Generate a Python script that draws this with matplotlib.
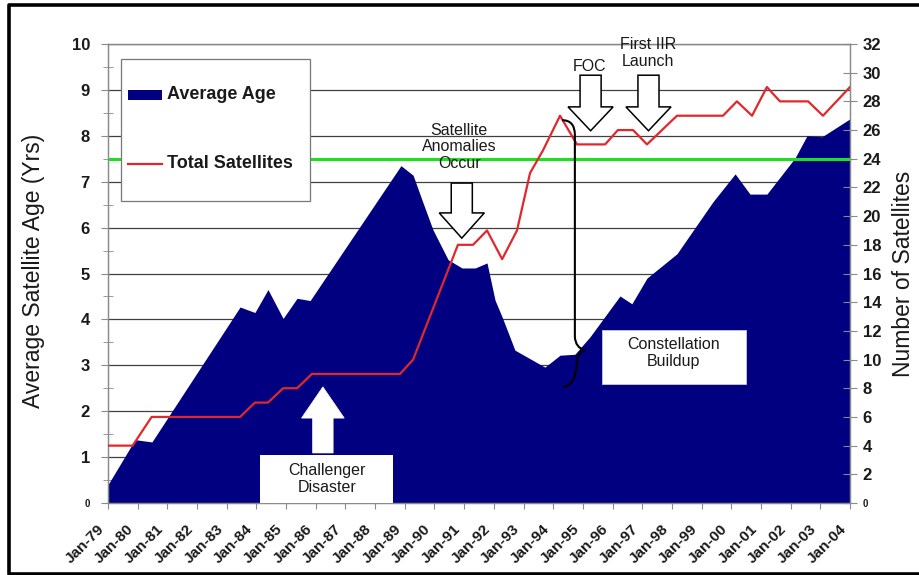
import numpy as np
import matplotlib
matplotlib.use("Agg")
import matplotlib.pyplot as plt
from matplotlib.patches import Rectangle, FancyArrow, PathPatch
from matplotlib.path import Path
from matplotlib.lines import Line2D
from matplotlib.transforms import ScaledTranslation

plt.rcParams['font.family'] = ['Liberation Sans', 'DejaVu Sans']

# Average age of the constellation (years), by date
age_years = [1979.0, 1979.91, 1980.48, 1983.45, 1983.95, 1984.39, 1984.9, 1985.37,
             1985.81, 1988.87, 1989.28, 1989.58, 1989.95, 1990.46, 1990.93, 1991.37,
             1991.77, 1992.04, 1992.28, 1992.71, 1993.72, 1994.23, 1994.73, 1995.24,
             1996.25, 1996.65, 1997.16, 1998.17, 1999.38, 2000.13, 2000.63, 2001.2,
             2002.15, 2002.55, 2003.06, 2004.0]
age_values = [0.4, 1.38, 1.33, 4.27, 4.15, 4.65, 4.02, 4.46,
              4.41, 7.35, 7.14, 6.6, 5.95, 5.3, 5.12, 5.12,
              5.23, 4.42, 4.05, 3.33, 2.96, 3.22, 3.24, 3.62,
              4.51, 4.34, 4.9, 5.43, 6.56, 7.17, 6.73, 6.73,
              7.52, 8.0, 7.98, 8.37]

# Total satellites on orbit, by date
sat_years = [1979.0, 1979.83, 1980.47, 1983.45, 1983.95, 1984.39, 1984.9, 1985.37,
             1985.87, 1988.84, 1989.28, 1990.79, 1991.3, 1991.77, 1992.28, 1992.78,
             1993.22, 1993.66, 1994.23, 1994.8, 1995.75, 1996.18, 1996.69, 1997.16,
             1998.17, 1999.72, 2000.19, 2000.7, 2001.2, 2001.64, 2002.59, 2003.09,
             2004.0]
sat_values = [4, 4, 6, 6, 7, 7, 8, 8,
              9, 9, 10, 18, 18, 19, 17, 19,
              23, 24.6, 27, 25, 25, 26, 26, 25,
              27, 27, 28, 27, 29, 28, 28, 27,
              29]

full_constellation = 24

year_ticks = list(range(1979, 2005))
year_labels = ['Jan-%02d' % (y % 100) for y in year_ticks]
age_ticks = list(range(0, 11))
sat_ticks = list(range(0, 33, 2))

NAVY = '#000080'
RED = '#e0282c'
GREEN = '#1fe01f'
AXIS_GRAY = '#8a8a8a'
TXT = '#1a1a1a'

W, H = 919, 575
fig = plt.figure(figsize=(W / 100, H / 100), dpi=100)
ax = fig.add_axes([108 / W, 1 - 503 / H, 742 / W, 459 / H])
ax2 = ax.twinx()

# area for average age, gridlines underneath
ax.fill_between(age_years, age_values, 0, color=NAVY, lw=0, zorder=2)
ax.set_xlim(1979, 2004)
ax.set_ylim(0, 10)
ax.set_axisbelow(True)
ax.yaxis.grid(True, color='#404040', lw=0.9)

ax.set_xticks(year_ticks, year_labels, rotation=45, ha='right', va='center',
              rotation_mode='anchor', fontweight='bold', fontsize=11)
ax.tick_params(axis='x', direction='out', length=4, color=AXIS_GRAY, pad=13,
               labelcolor=TXT)
shift = ScaledTranslation(-0.06, 0, fig.dpi_scale_trans)
for lab in ax.get_xticklabels():
    lab.set_transform(lab.get_transform() + shift)

ax.set_yticks(age_ticks, [str(v) for v in age_ticks], fontweight='bold', fontsize=12)
ax.set_yticks(np.arange(0.5, 10, 1), minor=True)
ax.tick_params(axis='y', which='major', direction='out', length=5,
               color=AXIS_GRAY, pad=8, labelcolor=TXT)
ax.tick_params(axis='y', which='minor', direction='inout', length=7, color=AXIS_GRAY)
ax.get_yticklabels()[0].set_fontsize(7)

ax.set_ylabel('Average Satellite Age (Yrs)', fontsize=16.5, color=TXT)
ax.yaxis.set_label_coords((45 - 108) / 742, 0.505)

# satellite count on the right-hand scale
ax2.set_ylim(0, 32)
ax2.plot(sat_years, sat_values, color=RED, lw=1.6, zorder=3)
ax2.axhline(full_constellation, color=GREEN, lw=2.2, zorder=2)
ax2.set_yticks(sat_ticks, [str(v) for v in sat_ticks], fontweight='bold', fontsize=12)
ax2.tick_params(axis='y', direction='inout', length=10, color=AXIS_GRAY, pad=4,
                labelcolor=TXT)
ax2.get_yticklabels()[0].set_fontsize(7)
ax2.set_ylabel('Number of Satellites', fontsize=16.5, color=TXT)
ax2.yaxis.set_label_coords((892 - 108) / 742, 0.499)

for a in (ax, ax2):
    for s in a.spines.values():
        s.set_color(AXIS_GRAY)
        s.set_linewidth(0.9)

# hollow event arrows pointing down at the curve
def down_arrow(x, top, tip, head_start):
    ax2.add_patch(FancyArrow(x, top, 0, tip - top, width=0.71, head_width=1.52,
                             head_length=head_start - tip, length_includes_head=True,
                             fc='white', ec='black', lw=1.1, zorder=5,
                             transform=ax.transData))

down_arrow(1990.92, 6.97, 5.77, 6.32)
down_arrow(1995.26, 9.32, 8.11, 8.63)
down_arrow(1997.21, 9.32, 8.11, 8.63)

note = dict(ha='center', va='center', fontsize=11.5, color=TXT, zorder=6,
            transform=ax.transData, linespacing=1.15)
ax2.text(1990.83, 7.76, 'Satellite\nAnomalies\nOccur', **note)
ax2.text(1995.24, 9.52, 'FOC', **note)
ax2.text(1997.2, 9.81, 'First IIR\nLaunch', **note)

# Challenger: white arrow up from a label box
ax2.add_patch(FancyArrow(1986.24, 1.09, 0, 2.53 - 1.09, width=0.69, head_width=1.44,
                         head_length=0.68, length_includes_head=True,
                         fc='white', ec='white', lw=0.5, zorder=5,
                         transform=ax.transData))
ax2.add_patch(Rectangle((1984.12, 0), 4.48, 1.05, fc='white', ec='none', zorder=5,
                        transform=ax.transData))
ax2.text(1986.37, 0.53, 'Challenger\nDisaster', **note)

ax2.add_patch(Rectangle((1995.63, 2.59), 4.86, 1.18, fc='white', ec='#cccccc',
                        lw=0.6, zorder=5, transform=ax.transData))
ax2.text(1998.04, 3.26, 'Constellation\nBuildup', **note)

# brace marking the buildup span
brace = Path([(1994.30, 8.34), (1994.73, 8.34), (1994.73, 8.02),
              (1994.73, 3.62),
              (1994.75, 3.38), (1995.07, 3.33),
              (1994.80, 3.28), (1994.80, 3.05),
              (1994.75, 2.55), (1994.33, 2.53)],
             [Path.MOVETO, Path.CURVE3, Path.CURVE3,
              Path.LINETO,
              Path.CURVE3, Path.CURVE3,
              Path.CURVE3, Path.CURVE3,
              Path.CURVE3, Path.CURVE3])
ax2.add_patch(PathPatch(brace, fc='none', ec='black', lw=1.5, zorder=6,
                        transform=ax.transData))

# legend box
ax2.add_patch(Rectangle((0.0175, 0.658), 0.2547, 0.309, fc='white', ec='#777777',
                        lw=0.9, zorder=7, transform=ax2.transAxes))
ax2.add_patch(Rectangle((0.027, 0.878), 0.0458, 0.022, fc=NAVY, ec='none', zorder=8,
                        transform=ax2.transAxes))
ax2.add_line(Line2D([0.027, 0.0728], [0.7386, 0.7386], color=RED, lw=1.6, zorder=8,
                    transform=ax2.transAxes))
leg = dict(ha='left', va='center', fontsize=13, fontweight='bold', color=TXT,
           zorder=8, transform=ax2.transAxes)
ax2.text(0.0795, 0.889, 'Average Age', **leg)
ax2.text(0.0795, 0.7386, 'Total Satellites', **leg)

# frame around the figure (top, left, bottom)
fig.add_artist(Line2D([1.02, 9 / W, 9 / W, 1.02],
                      [1 - 5 / H, 1 - 5 / H, 1.5 / H, 1.5 / H],
                      transform=fig.transFigure, color='black', lw=2.6))

fig.savefig('out.png', dpi=100)
